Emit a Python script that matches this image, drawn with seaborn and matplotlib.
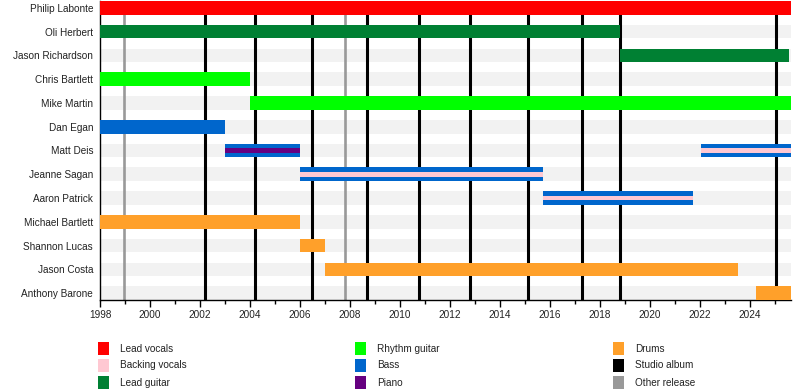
import matplotlib
matplotlib.use("Agg")
import matplotlib.pyplot as plt
import seaborn as sns
from matplotlib.patches import Rectangle

sns.set_theme(style="white")
plt.rcParams['font.family'] = ['Liberation Sans', 'DejaVu Sans']

# ---- data ----
members = ["Philip Labonte", "Oli Herbert", "Jason Richardson", "Chris Bartlett",
           "Mike Martin", "Dan Egan", "Matt Deis", "Jeanne Sagan", "Aaron Patrick",
           "Michael Bartlett", "Shannon Lucas", "Jason Costa", "Anthony Barone"]

END = 2025.64
stint_member = ["Philip Labonte", "Oli Herbert", "Jason Richardson", "Chris Bartlett",
                "Mike Martin", "Dan Egan", "Matt Deis", "Matt Deis", "Jeanne Sagan",
                "Aaron Patrick", "Michael Bartlett", "Shannon Lucas", "Jason Costa",
                "Anthony Barone"]
stint_start = [1998.0, 1998.0, 2018.8, 1998.0, 2004.0, 1998.0, 2003.0, 2022.05,
               2006.0, 2015.72, 1998.0, 2006.0, 2007.0, 2024.25]
stint_end = [END, 2018.8, 2025.55, 2004.0, END, 2003.0, 2006.0, END,
             2015.72, 2021.72, 2006.0, 2007.0, 2023.52, END]
stint_role = ["Lead vocals", "Lead guitar", "Lead guitar", "Rhythm guitar",
              "Rhythm guitar", "Bass", "Bass", "Bass", "Bass", "Bass",
              "Drums", "Drums", "Drums", "Drums"]
stint_second = [None, None, None, None, None, None, "Piano", "Backing vocals",
                "Backing vocals", "Backing vocals", None, None, None, None]

studio_albums = [2002.21, 2004.21, 2006.49, 2008.69, 2010.76, 2012.81,
                 2015.12, 2017.29, 2018.8, 2025.05]
other_releases = [1998.96, 2007.81]

legend_labels = ["Lead vocals", "Backing vocals", "Lead guitar",
                 "Rhythm guitar", "Bass", "Piano",
                 "Drums", "Studio album", "Other release"]

role_colors = {
    "Lead vocals": "#ff0000",
    "Backing vocals": "#ffc8d2",
    "Lead guitar": "#008033",
    "Rhythm guitar": "#00ff00",
    "Bass": "#0066cc",
    "Piano": "#660080",
    "Drums": "#ffa02a",
    "Studio album": "#000000",
    "Other release": "#999999",
}

# ---- figure ----
fig = plt.figure(figsize=(8, 3.9), dpi=100)
ax = fig.add_axes([100 / 800, 1 - 300 / 390, 691 / 800, 299.5 / 390])

H = 0.575
ypos = {m: i for i, m in enumerate(members)}

# background stripes
ax.barh(range(len(members)), [END - 1998] * len(members), left=1998, height=H,
        color="#f2f2f2", zorder=1, linewidth=0)

# release lines
for x in studio_albums:
    ax.axvline(x, color=role_colors["Studio album"], lw=2.2, zorder=2)
for x in other_releases:
    ax.axvline(x, color=role_colors["Other release"], lw=1.9, zorder=2)

# stints
for m, s, e, r, r2 in zip(stint_member, stint_start, stint_end, stint_role, stint_second):
    y = ypos[m]
    ax.barh(y, e - s, left=s, height=H, color=role_colors[r], zorder=3, linewidth=0)
    if r2:
        ax.barh(y, e - s, left=s, height=H * 0.34, color=role_colors[r2], zorder=4,
                linewidth=0)

ax.set_xlim(1998, END)
ax.set_ylim(len(members) - 1 + H / 2, -H / 2 - 0.02)
ax.set_yticks(range(len(members)))
ax.set_yticklabels(members, fontsize=7.2, color="#222222")
ax.tick_params(axis="y", length=0, pad=5)
ax.set_xticks(range(1998, 2025, 2))
ax.set_xticks(range(1999, 2026, 2), minor=True)
ax.set_xticklabels([str(v) for v in range(1998, 2025, 2)], fontsize=7.2, color="#222222")
ax.tick_params(axis="x", which="major", length=5, width=1, color="black",
               direction="out", pad=2, bottom=True)
ax.tick_params(axis="x", which="minor", length=3, width=1, color="black",
               direction="out", bottom=True)
for sp in ["top", "right"]:
    ax.spines[sp].set_visible(False)
for sp in ["left", "bottom"]:
    ax.spines[sp].set_color("black")
    ax.spines[sp].set_linewidth(1)
ax.grid(False)
ax.set_facecolor("white")

# legend (3 columns, manual placement)
col_x = [98, 355, 613]
row_y = [348.5, 365.5, 382.5]
for i, lab in enumerate(legend_labels):
    cx = col_x[i // 3]
    cy = row_y[i % 3]
    fig.add_artist(Rectangle((cx / 800, 1 - (cy + 6.5) / 390), 11 / 800, 13 / 390,
                             transform=fig.transFigure, color=role_colors[lab],
                             linewidth=0))
    fig.text((cx + 22) / 800, 1 - cy / 390, lab, fontsize=7.2, color="#222222",
             va="center", ha="left")

fig.savefig("out.png", dpi=100)
